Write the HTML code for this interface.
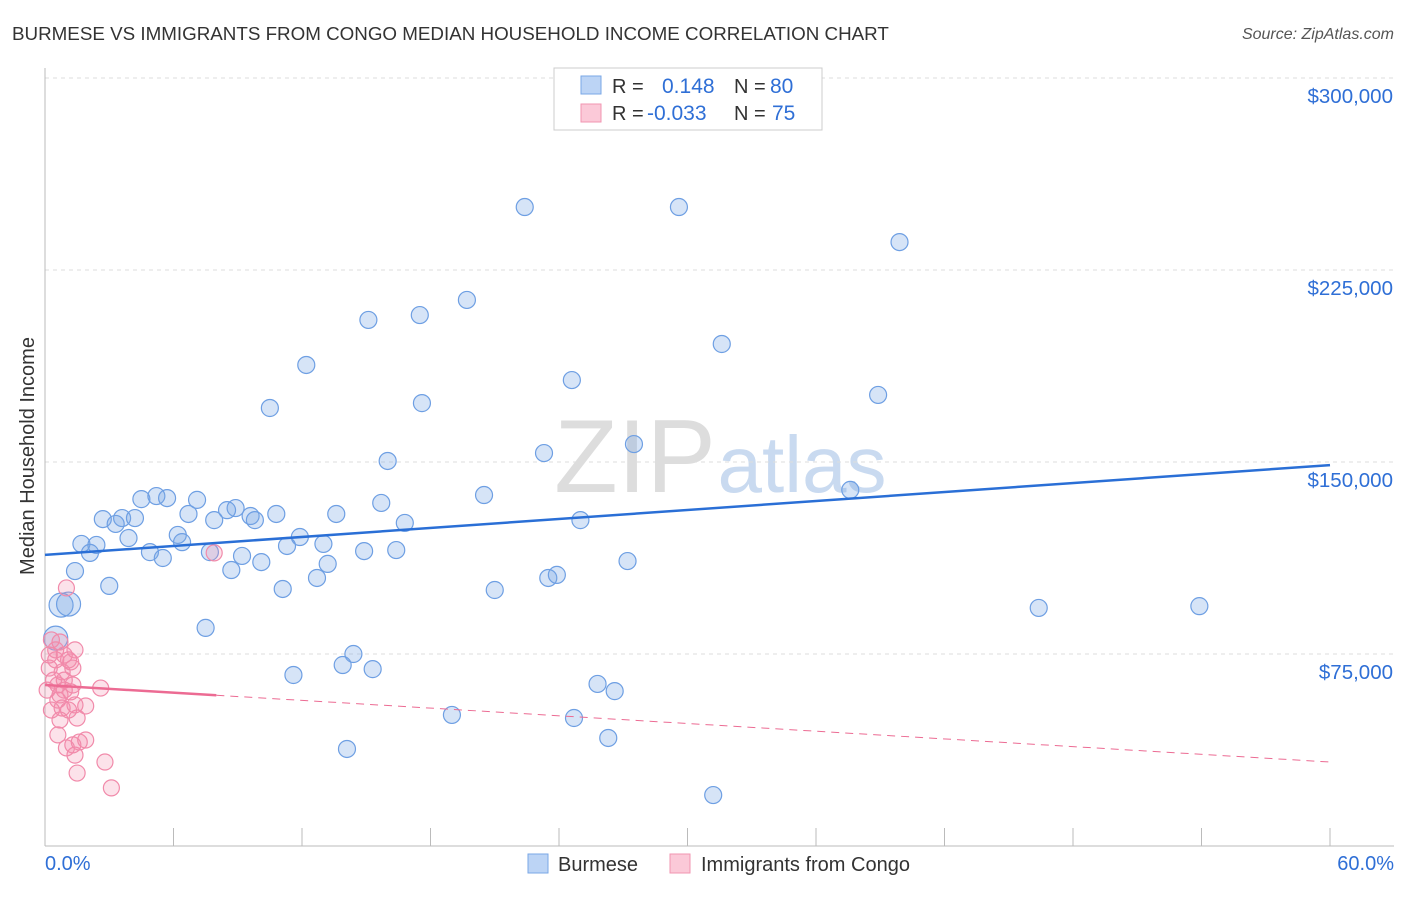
<!DOCTYPE html>
<html><head><meta charset="utf-8"><style>
body{margin:0;background:#fff;font-family:"Liberation Sans",sans-serif;}
svg text{font-family:"Liberation Sans",sans-serif;}
</style></head><body>
<svg id="c" width="1406" height="892">
<text x="12" y="40" font-size="18.8" fill="#333">BURMESE VS IMMIGRANTS FROM CONGO MEDIAN HOUSEHOLD INCOME CORRELATION CHART</text>
<text x="1394" y="39" font-size="16" fill="#555" font-style="italic" text-anchor="end">Source: ZipAtlas.com</text>
<text transform="translate(34,456) rotate(-90)" font-size="20" fill="#333" text-anchor="middle">Median Household Income</text>
<text x="635" y="492" font-size="104" fill="#ddd" font-family="Liberation Serif" text-anchor="middle">ZIP</text>
<text x="802" y="492" font-size="80" fill="#c9daf0" text-anchor="middle">atlas</text>
<g id="grid"></g><g id="axes"></g><g id="pts"></g><g id="lines"></g>
<g>
<rect x="554" y="68" width="268" height="62" fill="#fff" stroke="#ccc"/>
<rect x="581" y="76" width="20" height="18" fill="#bcd4f5" stroke="#7aa7e6"/>
<rect x="581" y="104" width="20" height="18" fill="#fbc9d8" stroke="#f295b1"/>
<text x="612" y="93" font-size="20" fill="#333">R = </text><text x="662" y="93" font-size="21" fill="#2f6fd6">0.148</text>
<text x="734" y="93" font-size="20" fill="#333">N =</text><text x="770" y="93" font-size="21" fill="#2f6fd6">80</text>
<text x="612" y="120" font-size="20" fill="#333">R = </text><text x="647" y="120" font-size="21" fill="#2f6fd6">-0.033</text>
<text x="734" y="120" font-size="20" fill="#333">N =</text><text x="772" y="120" font-size="21" fill="#2f6fd6">75</text>
</g>
<g>
<rect x="528" y="854" width="20" height="19" fill="#bcd4f5" stroke="#7aa7e6"/>
<text x="558" y="871" font-size="20" fill="#333">Burmese</text>
<rect x="670" y="854" width="20" height="19" fill="#fbc9d8" stroke="#f295b1"/>
<text x="701" y="871" font-size="20" fill="#333">Immigrants from Congo</text>
</g>
</svg>
<script>
const yTicks=[75000,150000,225000,300000];
const yTickLabels=["$75,000","$150,000","$225,000","$300,000"];
const xTicks=[0,6,12,18,24,30,36,42,48,54,60];
const blueX=[22.4,29.6,39.9,19.7,15.1,17.5,31.6,12.2,24.6,38.9,10.5,17.6,27.5,23.3,16.0,37.6,20.5,4.5,5.2,5.7,7.1,8.9,8.5,9.6,9.8,10.8,6.7,7.9,2.7,3.6,3.3,4.2,13.6,15.7,16.8,25.0,6.2,3.9,11.9,1.7,2.4,2.1,4.9,6.4,5.5,7.7,9.2,11.3,13.0,14.9,16.4,10.1,13.2,1.4,8.7,12.7,23.5,23.9,27.2,3.0,11.1,21.0,0.75,1.1,46.4,53.9,7.5,0.5,14.4,13.9,15.3,11.6,25.8,26.6,19.0,24.7,26.3,14.1,31.2];
const blueY=[249.6,249.6,235.9,213.3,205.5,207.4,196.1,187.9,182,176.2,171.1,173,157,153.5,150.4,139.1,137.1,135.5,136.7,135.9,135.2,132,131.2,128.9,127.3,129.7,129.7,127.3,127.7,128.1,125.8,128.1,129.7,134,126.2,127.3,121.5,120.3,120.7,118,117.6,114.5,114.8,118.7,112.5,114.8,113.3,117.2,118,115.2,115.6,110.9,110.2,107.4,107.8,104.7,104.7,105.9,111.3,101.6,100.4,100,94.1,94.5,93,93.7,85.2,81.2,75,70.7,69.1,66.8,63.3,60.5,51.2,50,42.2,37.9,19.9];
const pinkX=[7.9,1.0,0.3,0.7,1.2,1.3,0.5,0.8,0.4,0.9,1.2,0.6,1.4,1.1,1.5,2.6,0.7,0.6,1.3,1.6,1.0,1.4,2.8,1.5,3.1,0.9,0.5,0.2,0.6,0.9,1.3,1.1,0.7,0.8,0.1,0.3,1.9,1.9,0.2,1.4];
const pinkY=[114.5,100.8,80.5,79.7,71.9,69.5,72.7,68,64.8,60.9,60.2,57,55.1,53.1,50,61.7,49.2,43.4,39.5,40.6,38.3,35.5,32.8,28.5,22.7,74.6,76.6,69.5,62.9,64.8,62.9,72.7,59,53.9,60.9,53.1,54.7,41.4,74.6,76.6];
const blueTrend=[113.7,148.8];
const pinkTrend=[62.9,32.8];
const pinkSolidEnd=8;
const NS="http://www.w3.org/2000/svg";
const X=v=>45+v/60*1285, Y=k=>654-(k-75)*192/75;
function mk(t,a,p){const e=document.createElementNS(NS,t);for(const k in a)e.setAttribute(k,a[k]);document.getElementById(p).appendChild(e);return e;}
yTicks.forEach((v,i)=>{const y=Y(v/1000);
const l=mk('line',{x1:45,x2:1394,y1:y,y2:y,stroke:'#ddd','stroke-dasharray':'4,4'},'grid');


const t=mk('text',{x:1393,y:y+25,'font-size':20.5,fill:'#2f6fd6','text-anchor':'end'},'grid');t.textContent=yTickLabels[i];

});
mk('line',{x1:45,x2:45,y1:68,y2:846,stroke:'#bbb'},'axes');
mk('line',{x1:45,x2:1394,y1:846,y2:846,stroke:'#bbb'},'axes');
xTicks.forEach(v=>{const x=X(v);if(v>0){const l=mk('line',{x1:x,x2:x,y1:828,y2:846,stroke:'#bbb'},'axes');

}});
let t0=mk('text',{x:45,y:870,'font-size':20,fill:'#2f6fd6'},'axes');t0.textContent='0.0%';


let t1=mk('text',{x:1394,y:870,'font-size':20,fill:'#2f6fd6','text-anchor':'end'},'axes');t1.textContent='60.0%';


blueX.forEach((v,i)=>{const big=(v<1.2&&blueY[i]>80&&blueY[i]<95)||(v<0.6&&blueY[i]<82);
const c=mk('circle',{cx:X(v),cy:Y(blueY[i]),r:big?12:8.5,fill:'rgba(120,165,230,0.3)',stroke:'#6e9fe3','stroke-width':1.2},'pts');

});
pinkX.forEach((v,i)=>{const c=mk('circle',{cx:X(v),cy:Y(pinkY[i]),r:8,fill:'rgba(245,140,170,0.25)',stroke:'#f18aaa','stroke-width':1.2},'pts');

});
let bl=mk('line',{x1:X(0),y1:Y(blueTrend[0]),x2:X(60),y2:Y(blueTrend[1]),stroke:'#2a6fd6','stroke-width':2.5},'lines');


const pAt=x=>pinkTrend[0]+(pinkTrend[1]-pinkTrend[0])*x/60;
let ps=mk('line',{x1:X(0),y1:Y(pinkTrend[0]),x2:X(pinkSolidEnd),y2:Y(pAt(pinkSolidEnd)),stroke:'#ec6b93','stroke-width':2.5},'lines');


let pd=mk('line',{x1:X(pinkSolidEnd),y1:Y(pAt(pinkSolidEnd)),x2:X(60),y2:Y(pinkTrend[1]),stroke:'#ec6b93','stroke-width':1,'stroke-dasharray':'8,6'},'lines');


</script>
</body></html>
